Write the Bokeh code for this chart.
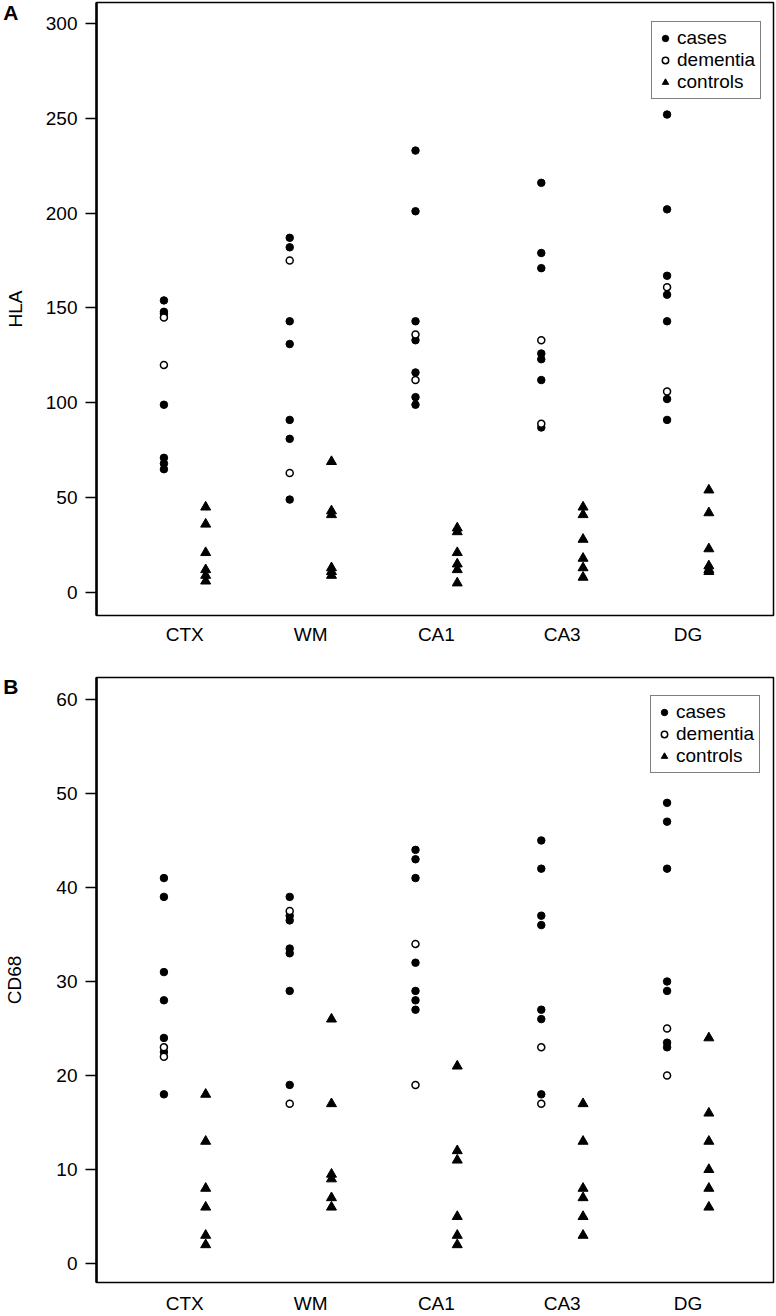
from bokeh.plotting import figure
from bokeh.models import (ColumnDataSource, FixedTicker, Legend, LegendItem, LinearAxis)
from bokeh.layouts import column
from bokeh.embed import file_html
from bokeh.resources import INLINE

regions = ["CTX", "WM", "CA1", "CA3", "DG"]

# Panel A: HLA
hla_cases = [[154, 148, 147, 99, 71, 68, 65],
             [187, 182, 143, 131, 91, 81, 49],
             [233, 201, 143, 133, 116, 103, 99],
             [216, 179, 171, 126, 123, 112, 87],
             [252, 202, 167, 157, 143, 102, 91]]
hla_dementia = [[145, 120], [175, 63], [136, 112], [133, 89], [161, 106]]
hla_controls = [[45, 36, 21, 12, 9, 6],
                [69, 43, 41, 13, 11, 9],
                [34, 32, 21, 15, 12, 5],
                [45, 41, 28, 18, 13, 8],
                [54, 42, 23, 14, 12, 11]]
hla_ticks = [0, 50, 100, 150, 200, 250, 300]

# Panel B: CD68
cd68_cases = [[41, 39, 31, 28, 24, 22.5, 18],
              [39, 37, 36.5, 33.5, 33, 29, 19],
              [44, 43, 41, 32, 29, 28, 27],
              [45, 42, 37, 36, 27, 26, 18],
              [49, 47, 42, 30, 29, 23.5, 23]]
cd68_dementia = [[23, 22], [37.5, 17], [34, 19], [23, 17], [25, 20]]
cd68_controls = [[18, 13, 8, 6, 3, 2],
                 [26, 17, 9.5, 9, 7, 6],
                 [21, 12, 11, 5, 3, 2],
                 [17, 13, 8, 7, 5, 3],
                 [24, 16, 13, 10, 8, 6]]
cd68_ticks = [0, 10, 20, 30, 40, 50, 60]

FONT = "Liberation Sans"
FS = "19px"
OFF = 0.166
XR = (0.298, 5.68)


def flat(groups, offset):
    xs, ys = [], []
    for i, vals in enumerate(groups):
        for v in vals:
            xs.append(i + 1 + offset)
            ys.append(v)
    return ColumnDataSource(dict(x=xs, y=ys))


def panel(cases, dementia, controls, ticks, yrange, ylabel, letter, letter_y,
          height, top, bottom, label_standoff, xstandoff, legend_loc):
    p = figure(width=776, height=height, output_backend="svg",
               toolbar_location=None, x_range=XR, y_range=yrange,
               min_border_left=91, min_border_right=3,
               min_border_top=top, min_border_bottom=bottom)
    p.grid.visible = False
    p.background_fill_color = "white"
    p.border_fill_color = "white"
    p.outline_line_color = "black"
    p.outline_line_width = 1.5

    r_cases = p.scatter(x="x", y="y", source=flat(cases, -OFF), marker="circle",
                        size=7.5, fill_color="black", line_color="black")
    r_dem = p.scatter(x="x", y="y", source=flat(dementia, -OFF), marker="circle",
                      size=7, fill_color="white", line_color="black", line_width=1.5)
    r_ctl = p.scatter(x="x", y="y", source=flat(controls, OFF), marker="triangle",
                      size=10, fill_color="black", line_color="black")

    xa = p.xaxis[0]
    xa.ticker = FixedTicker(ticks=[1, 2, 3, 4, 5])
    xa.major_label_overrides = {i + 1: r for i, r in enumerate(regions)}
    xa.major_tick_out = 0
    xa.major_tick_in = 0
    xa.minor_tick_out = 0
    xa.minor_tick_in = 0
    xa.axis_line_color = None
    xa.major_label_standoff = xstandoff
    xa.major_label_text_font = FONT
    xa.major_label_text_font_size = FS
    xa.major_label_text_color = "black"

    ya = p.yaxis[0]
    ya.ticker = FixedTicker(ticks=ticks)
    ya.major_tick_out = 11
    ya.major_tick_in = 0
    ya.major_tick_line_width = 1.5
    ya.minor_tick_out = 0
    ya.minor_tick_in = 0
    ya.axis_line_width = 2.5
    ya.axis_line_color = "black"
    ya.major_label_standoff = 8
    ya.major_label_text_font = FONT
    ya.major_label_text_font_size = FS
    ya.major_label_text_color = "black"
    ya.axis_label = ylabel
    ya.axis_label_text_font = FONT
    ya.axis_label_text_font_size = FS
    ya.axis_label_text_font_style = "normal"
    ya.axis_label_text_color = "black"
    ya.axis_label_standoff = label_standoff

    # panel letter as the single tick label of a bare outer axis
    la = LinearAxis(ticker=FixedTicker(ticks=[letter_y]),
                    major_label_overrides={letter_y: letter},
                    major_tick_out=0, major_tick_in=0,
                    minor_tick_out=0, minor_tick_in=0,
                    axis_line_color=None,
                    major_label_standoff=-17,
                    major_label_text_font=FONT,
                    major_label_text_font_size="21px",
                    major_label_text_font_style="bold",
                    major_label_text_color="black")
    p.add_layout(la, "left")

    legend = Legend(items=[LegendItem(label="cases", renderers=[r_cases]),
                           LegendItem(label="dementia", renderers=[r_dem]),
                           LegendItem(label="controls", renderers=[r_ctl])],
                    location=legend_loc)
    legend.padding = 5
    legend.spacing = 0
    legend.glyph_width = 16
    legend.glyph_height = 22
    legend.label_height = 22
    legend.label_standoff = 4
    legend.label_text_font = FONT
    legend.label_text_font_size = FS
    legend.label_text_color = "black"
    legend.border_line_color = "black"
    legend.border_line_width = 1.2
    legend.background_fill_alpha = 1
    p.add_layout(legend, "center")
    return p


pA = panel(hla_cases, hla_dementia, hla_controls, hla_ticks, (-12.13, 311.07),
           "HLA", "A", 306, 650, 2, 35, 17, 8, (555, 516))
pB = panel(cd68_cases, cd68_dementia, cd68_controls, cd68_ticks, (-2.01, 62.33),
           "CD68", "B", 61.4, 666, 27, 31, 28, 10, (554, 509))

layout = column(pA, pB, spacing=0)
open("out.html", "w").write(file_html(layout, INLINE))
